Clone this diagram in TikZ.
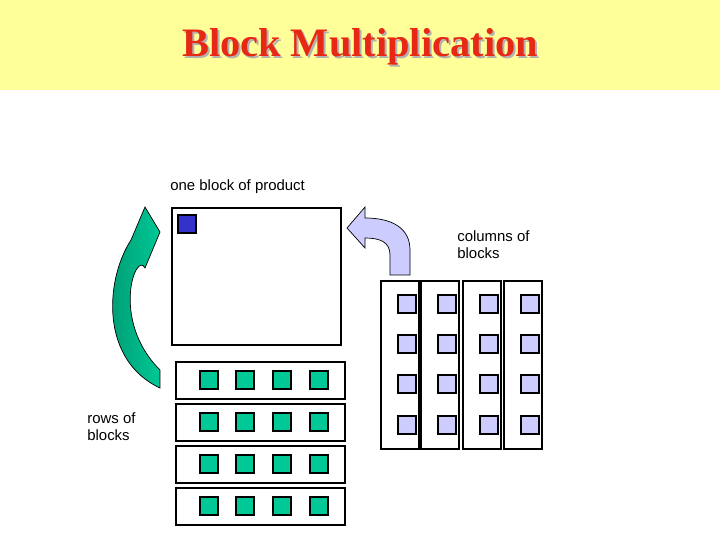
\documentclass[tikz,border=0pt]{standalone}
\usepackage{fontspec}
\setmainfont{Liberation Serif}
\setsansfont{Liberation Sans}
\usetikzlibrary{positioning}
\definecolor{bandyellow}{RGB}{255,255,153}
\definecolor{titlered}{RGB}{230,40,20}
\definecolor{rowgreen}{RGB}{0,200,150}
\definecolor{arrowgreen}{RGB}{0,150,110}
\definecolor{collav}{RGB}{204,204,255}
\definecolor{prodblue}{RGB}{51,51,204}
\begin{document}
\begin{tikzpicture}[
    x=0.02cm, y=-0.02cm,
    strip/.style={rectangle, draw, thick, fill=white},
    cell/.style={rectangle, draw, thick, minimum size=0.36cm, inner sep=0pt},
    label/.style={font=\sffamily\fontsize{8.5}{10}\selectfont, align=left, anchor=north west, inner sep=0pt}
]
\useasboundingbox (0,0) rectangle (720,540);

% Title band
\fill[bandyellow] (0,0) rectangle (720,90);
\node[font=\bfseries\fontsize{23}{26}\selectfont, text=gray!60] (shadow) at (362,49) {Block Multiplication};
\node[font=\bfseries\fontsize{23}{26}\selectfont, text=titlered] (title) at (360,47) {Block Multiplication};

% Product matrix
\draw[thick] (172,208) rectangle (341,345);
\node[cell, fill=prodblue] (prod) at (187,224) {};
\node[label] (prodlbl) at (170,179) {one block of product};

% Rows of blocks
\foreach \y [count=\r] in {362,404,446,488} {
  \draw[strip] (176,\y) rectangle (345,\y+37);
  \foreach \x [count=\c] in {209,245,282,319}
    \node[cell, fill=rowgreen] (row\r-\c) at (\x,\y+18) {};
}
\node[label] (rowlbl) at (87,412) {rows of\\blocks};

% Columns of blocks
\foreach \x [count=\c] in {381,421,463,504} {
  \draw[strip] (\x,281) rectangle (\x+38,449);
  \foreach \y [count=\r] in {304,344,384,425}
    \node[cell, fill=collav] (col\r-\c) at (\x+26,\y) {};
}
\node[label] (collbl) at (457,230) {columns of\\blocks};

% Green arrow
\shade[left color=arrowgreen, right color=rowgreen, draw=black]
  (160,388) .. controls (100,360) and (105,280) .. (131,240)
  -- (145,207) -- (160,232) -- (145,268)
  .. controls (136,250) and (110,320) .. (160,370) -- cycle;

% Lavender arrow
\filldraw[fill=collav, draw=black]
  (390,275) -- (410,275) -- (410,250) .. controls (410,228) and (392,218) .. (365,218)
  -- (365,207) -- (347,228) -- (365,248) -- (365,238)
  .. controls (380,238) and (390,242) .. (390,255) -- cycle;
\end{tikzpicture}
\end{document}
